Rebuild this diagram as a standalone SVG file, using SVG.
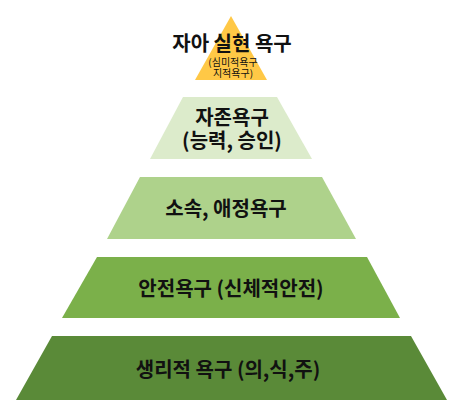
<svg xmlns="http://www.w3.org/2000/svg" width="466" height="407" viewBox="0 0 466 407">
<style>
text{font-family:"Noto Sans CJK KR","Noto Sans",sans-serif;font-weight:bold;fill:#111;text-anchor:middle}
.m{font-size:20px}
.s{font-size:10px;font-weight:normal}
</style>
<rect width="466" height="407" fill="#fff"/>
<g id="level5">
<polygon points="52,336 411,336 447,400 16,400" fill="#5A8A38"/>
<text class="m" x="228" y="377">생리적 욕구 (의,식,주)</text>
</g>
<g id="level4">
<polygon points="97,257 367,257 400,318 62,318" fill="#7BB04A"/>
<text class="m" x="231" y="296">안전욕구 (신체적안전)</text>
</g>
<g id="level3">
<polygon points="140,177 322,177 356,239 107,239" fill="#AED28B"/>
<text class="m" x="226" y="216">소속, 애정욕구</text>
</g>
<g id="level2">
<polygon points="183,97 277,97 312,159 150,159" fill="#DCEBCB"/>
<text class="m" x="232" y="125">자존욕구</text>
<text class="m" x="232" y="148">(능력, 승인)</text>
</g>
<g id="level1">
<polygon points="231,16 267,80 195,80" fill="#FFC846"/>
<text class="m" x="232" y="51">자아 실현 욕구</text>
<text class="s" x="233" y="66">(심미적욕구</text>
<text class="s" x="233" y="77">지적욕구)</text>
</g>
<g id="connectors"/>
</svg>
